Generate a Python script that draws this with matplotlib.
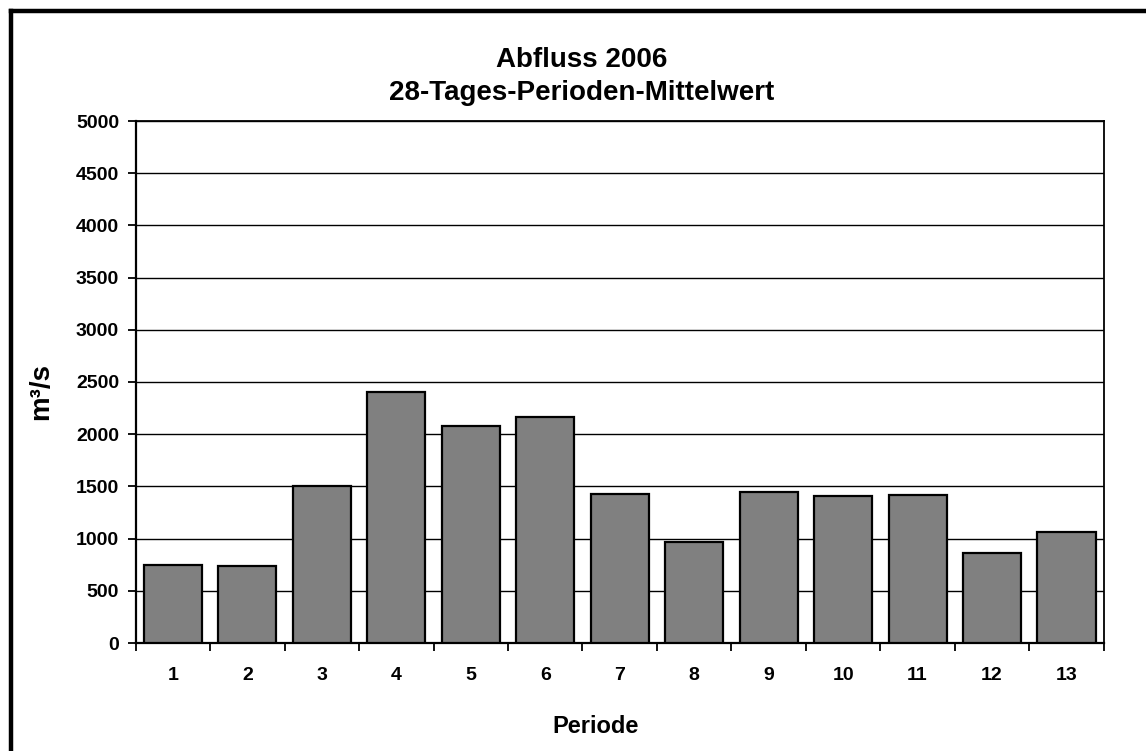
import numpy as np
import matplotlib
matplotlib.use("Agg")
from matplotlib import pyplot as plt
from matplotlib.lines import Line2D

# ----------------------------
# Data
# ----------------------------
perioden = ["1", "2", "3", "4", "5", "6", "7", "8", "9", "10", "11", "12", "13"]
abfluss = [748, 742, 1503, 2402, 2083, 2163, 1430, 969, 1449, 1404, 1420, 864, 1068]
y_ticks = [0, 500, 1000, 1500, 2000, 2500, 3000, 3500, 4000, 4500, 5000]

title_lines = ["Abfluss 2006", "28-Tages-Perioden-Mittelwert"]
x_label = "Periode"
y_label = "m³/s"

plt.rcParams["font.family"] = ["Liberation Sans", "DejaVu Sans"]
plt.rcParams["font.weight"] = "bold"

W, H = 1146, 751


def fx(px):
    return px / W


def fy(py):
    return 1 - py / H


fig = plt.figure(figsize=(W / 100, H / 100), dpi=100)
ax = fig.add_axes([fx(135.7), fy(643), (1103.7 - 135.7) / W, (643 - 121) / H])

x = np.arange(len(perioden))
ax.bar(x, abfluss, width=0.78, color="#808080", edgecolor="black", linewidth=1.6, zorder=3)

ax.set_xlim(-0.5, len(perioden) - 0.5)
ax.set_ylim(0, 5000)
ax.set_yticks(y_ticks)
ax.set_yticklabels([str(v) for v in y_ticks], fontsize=14, fontweight="bold")
ax.yaxis.grid(True, color="black", linewidth=1.0, zorder=0)

# category labels in the middle, ticks on the category boundaries
ax.set_xticks(x)
ax.set_xticklabels(perioden, fontsize=14, fontweight="bold")
ax.tick_params(axis="x", which="major", length=0, pad=17)
ax.set_xticks(np.arange(-0.5, len(perioden)), minor=True)
ax.tick_params(axis="x", which="minor", length=6, width=1.3, direction="out")
ax.tick_params(axis="y", length=6, width=1.3, direction="out", pad=6)

for side in ["left", "bottom"]:
    ax.spines[side].set_linewidth(1.6)
for side in ["top", "right"]:
    ax.spines[side].set_linewidth(1.3)

# titles placed like the original chart (centred on the chart area)
fig.text(fx(582), fy(67), title_lines[0], fontsize=20, fontweight="bold", ha="center", va="baseline")
fig.text(fx(582), fy(100), title_lines[1], fontsize=20, fontweight="bold", ha="center", va="baseline")
fig.text(fx(596), fy(733), x_label, fontsize=17, fontweight="bold", ha="center", va="baseline")
fig.text(fx(41), fy(391), y_label, fontsize=20, fontweight="bold", ha="center", va="center",
         rotation=90)

# outer chart frame (cut off at right and bottom edges)
bx, by = fx(10.5), fy(10.5)
fig.add_artist(Line2D([bx, bx], [by, -0.05], color="black", linewidth=3.2, transform=fig.transFigure))
fig.add_artist(Line2D([bx, 1.05], [by, by], color="black", linewidth=3.2, transform=fig.transFigure))

fig.savefig("out.png", dpi=100)
